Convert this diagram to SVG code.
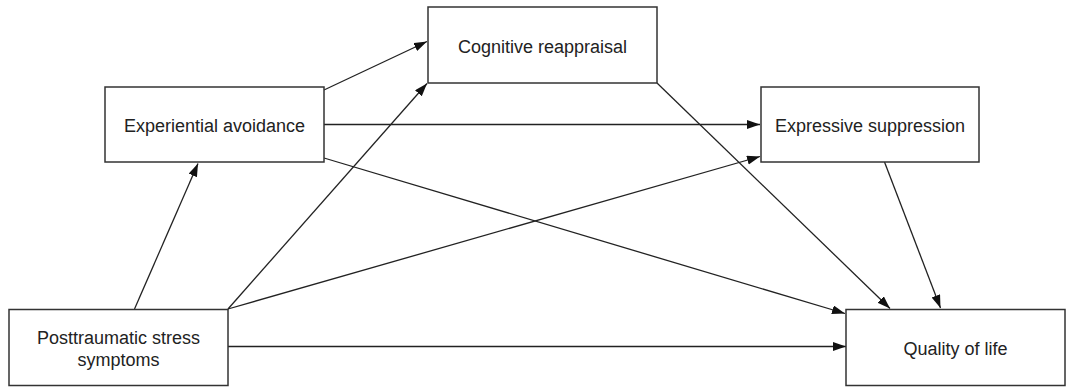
<svg xmlns="http://www.w3.org/2000/svg" width="1066" height="388" viewBox="0 0 1066 388">
  <style>
    .box { fill: #ffffff; stroke: #333333; stroke-width: 1.5; }
    .label { font-family: "Liberation Sans", Arial, sans-serif; font-size: 18px; fill: #222222; text-anchor: middle; }
    .edge { stroke: #222222; stroke-width: 1.3; fill: none; marker-end: url(#arrow); }
  </style>
  <defs>
    <marker id="arrow" markerUnits="userSpaceOnUse" markerWidth="14" markerHeight="10" refX="13" refY="4.5" orient="auto">
      <path d="M0,0 L13,4.5 L0,9 Z" fill="#111111"/>
    </marker>
  </defs>
  <rect width="1066" height="388" fill="#ffffff"/>

  <!-- paths between constructs -->
  <g id="connectors">
    <line class="edge" x1="134.5" y1="309" x2="198" y2="163.5"/>
    <line class="edge" x1="228" y1="309" x2="427" y2="83.5"/>
    <line class="edge" x1="228" y1="309" x2="760" y2="156.5"/>
    <line class="edge" x1="228" y1="346.5" x2="846" y2="346.5"/>
    <line class="edge" x1="324" y1="90" x2="427" y2="41.5"/>
    <line class="edge" x1="324" y1="124.5" x2="760" y2="124.5"/>
    <line class="edge" x1="324" y1="158" x2="845" y2="313.5"/>
    <line class="edge" x1="657" y1="83" x2="890" y2="308.5"/>
    <line class="edge" x1="884.5" y1="162" x2="940.5" y2="308"/>
  </g>

  <g id="ptss">
    <rect class="box" x="9" y="309.5" width="219" height="76"/>
    <text class="label" x="118.5" y="344">Posttraumatic stress</text>
    <text class="label" x="118.5" y="365.5">symptoms</text>
  </g>

  <g id="experiential-avoidance">
    <rect class="box" x="105" y="87" width="219" height="75"/>
    <text class="label" x="214.5" y="131.5">Experiential avoidance</text>
  </g>

  <g id="cognitive-reappraisal">
    <rect class="box" x="428" y="7" width="229" height="76"/>
    <text class="label" x="542.5" y="52.5">Cognitive reappraisal</text>
  </g>

  <g id="expressive-suppression">
    <rect class="box" x="761" y="87" width="218" height="75"/>
    <text class="label" x="870" y="131.5">Expressive suppression</text>
  </g>

  <g id="quality-of-life">
    <rect class="box" x="846" y="309.5" width="219" height="76"/>
    <text class="label" x="955.5" y="355">Quality of life</text>
  </g>
</svg>
